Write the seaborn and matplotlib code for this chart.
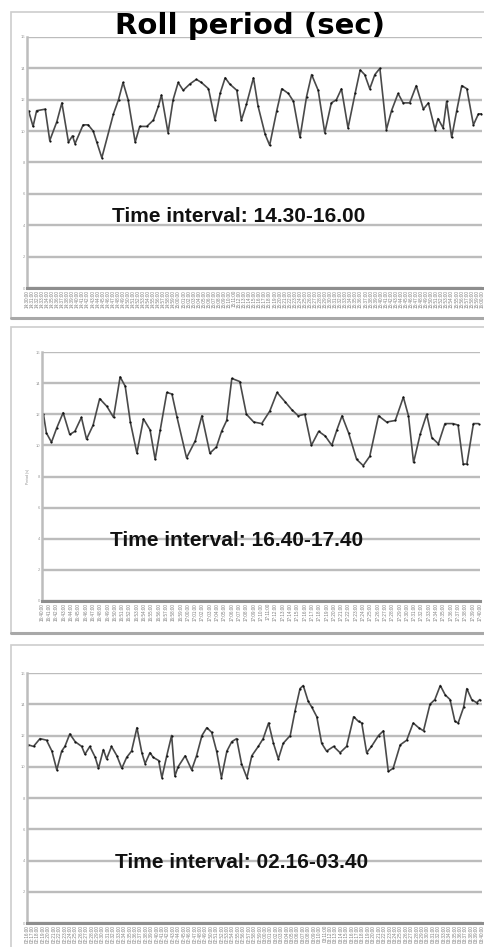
import numpy as np
import pandas as pd
import matplotlib
matplotlib.use("Agg")
import matplotlib.pyplot as plt
import seaborn as sns
from matplotlib.patches import Rectangle
from matplotlib.lines import Line2D
from datetime import datetime, timedelta

# --- roll period records (elapsed minutes, period in seconds) ---
t1 = [0.3, 1.2, 1.9, 3.6, 4.5, 5.9, 6.9, 8.2, 9.0, 9.5, 11.1, 12.1, 13.1, 13.8, 14.8,
      17.1, 18.1, 19.0, 20.0, 21.4, 22.3, 23.7, 25.0, 26.0, 26.6, 27.9, 28.9, 29.9,
      30.9, 32.2, 33.5, 34.5, 35.9, 37.2, 38.2, 39.2, 40.1, 41.5, 42.4, 43.4, 44.8,
      45.7, 47.1, 48.0, 49.4, 50.4, 51.7, 52.7, 54.0, 55.3, 56.3, 57.6, 58.9, 60.2,
      61.2, 62.2, 63.5, 64.9, 65.9, 66.8, 67.8, 68.8, 69.8, 71.1, 72.1, 73.4, 74.4,
      75.7, 77.0, 78.4, 79.4, 80.7, 81.3, 82.3, 83.0, 84.0, 85.0, 86.0, 87.0, 88.3,
      89.3, 89.9]
v1 = [11.3, 10.3, 11.3, 11.4, 9.4, 10.6, 11.8, 9.3, 9.7, 9.2, 10.4, 10.4, 10.0, 9.3, 8.3,
      11.1, 12.0, 13.1, 12.0, 9.3, 10.3, 10.3, 10.7, 11.6, 12.3, 9.9, 12.0, 13.1,
      12.6, 13.0, 13.3, 13.1, 12.7, 10.7, 12.4, 13.4, 13.0, 12.6, 10.7, 11.7, 13.4,
      11.6, 9.8, 9.1, 11.3, 12.7, 12.4, 11.9, 9.6, 12.2, 13.6, 12.6, 9.9, 11.8,
      12.0, 12.7, 10.2, 12.4, 13.9, 13.6, 12.7, 13.6, 14.0, 10.1, 11.3, 12.4, 11.8,
      11.8, 12.9, 11.4, 11.8, 10.1, 10.8, 10.2, 11.9, 9.6, 11.3, 12.9, 12.7, 10.4,
      11.1, 11.1]

t2 = [0.2, 0.6, 1.3, 2.0, 2.9, 3.8, 4.5, 5.4, 6.1, 7.0, 7.9, 8.9, 9.8, 10.7, 11.4,
      12.1, 13.0, 13.9, 14.8, 15.5, 16.2, 17.1, 17.8, 18.5, 19.8, 21.0, 21.9, 23.0,
      23.9, 24.6, 25.3, 26.0, 27.1, 28.0, 29.0, 30.1, 31.2, 32.2, 33.3, 34.2, 35.1,
      36.0, 36.9, 37.9, 38.8, 39.7, 40.4, 41.1, 42.0, 43.1, 44.0, 44.9, 46.1, 47.2,
      48.4, 49.5, 50.2, 50.9, 51.8, 52.7, 53.4, 54.3, 55.2, 56.3, 57.0, 57.7, 58.2,
      59.1, 59.8]
v2 = [12.0, 10.8, 10.2, 11.1, 12.1, 10.7, 10.9, 11.8, 10.4, 11.3, 13.0, 12.5, 11.8,
      14.4, 13.8, 11.5, 9.5, 11.7, 11.0, 9.1, 11.0, 13.4, 13.3, 11.8, 9.2, 10.3,
      11.9, 9.5, 9.9, 10.9, 11.6, 14.3, 14.1, 12.0, 11.5, 11.4, 12.2, 13.4, 12.8,
      12.3, 11.9, 12.0, 10.0, 10.9, 10.6, 10.0, 11.0, 11.9, 10.8, 9.1, 8.7, 9.3,
      11.9, 11.5, 11.6, 13.1, 11.9, 8.9, 10.7, 12.0, 10.5, 10.1, 11.4, 11.4, 11.3,
      8.8, 8.8, 11.4, 11.4]

t3 = [0.25, 1.2, 2.4, 3.6, 4.6, 5.5, 6.4, 7.0, 7.9, 8.9, 10.1, 10.7, 11.6, 12.6,
      13.2, 14.1, 14.7, 15.6, 16.6, 17.5, 18.4, 19.3, 20.3, 21.2, 21.8, 22.7, 23.3,
      24.3, 24.9, 25.8, 26.7, 27.3, 27.9, 29.2, 30.4, 31.3, 32.3, 33.2, 34.1, 35.0,
      35.9, 36.9, 37.8, 38.7, 39.6, 40.6, 41.5, 42.7, 43.6, 44.6, 45.5, 46.4, 47.3,
      48.6, 49.5, 50.4, 51.0, 51.9, 52.6, 53.5, 54.4, 55.3, 56.6, 57.8, 59.0, 60.3,
      61.2, 61.8, 62.7, 63.6, 64.9, 65.8, 66.7, 67.6, 68.9, 70.1, 71.3, 72.3, 73.2,
      74.4, 75.3, 76.3, 77.2, 78.1, 79.0, 79.6, 80.6, 81.2, 82.1, 83.0, 83.6]
v3 = [11.4, 11.3, 11.8, 11.7, 11.0, 9.8, 11.0, 11.3, 12.1, 11.6, 11.3, 10.8, 11.3,
      10.6, 9.9, 11.1, 10.5, 11.3, 10.7, 9.9, 10.6, 11.0, 12.5, 10.9, 10.2, 10.9,
      10.6, 10.4, 9.3, 10.7, 12.0, 9.4, 10.0, 10.7, 9.8, 10.7, 12.0, 12.5, 12.2,
      11.0, 9.3, 11.0, 11.6, 11.8, 10.2, 9.3, 10.7, 11.3, 11.8, 12.8, 11.5, 10.5,
      11.5, 12.0, 13.6, 15.0, 15.2, 14.2, 13.8, 13.2, 11.5, 11.0, 11.3, 10.9, 11.3,
      13.2, 12.9, 12.8, 10.9, 11.3, 12.0, 12.3, 9.7, 9.9, 11.4, 11.7, 12.8, 12.5,
      12.3, 14.0, 14.3, 15.2, 14.6, 14.3, 12.9, 12.8, 13.8, 15.0, 14.3, 14.1, 14.3]

starts = ["14:30", "16:40", "02:16"]
spans = [90, 60, 84]
intervals = ["Time interval: 14.30-16.00",
             "Time interval: 16.40-17.40",
             "Time interval: 02.16-03.40"]
yticks = list(range(0, 17, 2))
title = "Roll period (sec)"

sns.set_style("white")
plt.rcParams['font.family'] = ['Liberation Sans', 'DejaVu Sans']

W, H = 485, 947
fig = plt.figure(figsize=(W / 100, H / 100), dpi=100)


def fig_rect(l, t, r, b):
    return [l / W, 1 - b / H, (r - l) / W, (b - t) / H]


# layout in pixels: axes (left, top, right, bottom), frame (left, top, right, bottom),
# interval-text anchor in axes fraction
layout = [
    dict(ax=(27, 37, 482, 288), frame=(11, 12, 500, 318), txt=(0.187, 0.283)),
    dict(ax=(42, 352, 480, 601), frame=(11, 327, 500, 633), txt=(0.155, 0.241)),
    dict(ax=(27, 673, 482, 923), frame=(11, 645, 500, 960), txt=(0.193, 0.244)),
]

series = [(t1, v1), (t2, v2), (t3, v3)]

for i, ((t, v), lay) in enumerate(zip(series, layout)):
    # panel frame with a slightly darker lower edge
    fl, ft, fr, fb = lay["frame"]
    fig.add_artist(Rectangle((fl / W, 1 - fb / H), (fr - fl) / W, (fb - ft) / H,
                             transform=fig.transFigure, fill=False,
                             ec="#cdcdcd", lw=1.2, zorder=0))
    fig.add_artist(Line2D([fl / W, fr / W], [1 - fb / H, 1 - fb / H],
                          transform=fig.transFigure, color="#a8a8a8", lw=2.2))

    ax = fig.add_axes(fig_rect(*lay["ax"]))
    df = pd.DataFrame({"minute": t, "period": v})
    sns.lineplot(data=df, x="minute", y="period", ax=ax, color="#4a4a4a",
                 lw=1.2, estimator=None, sort=False,
                 marker="o", markersize=1.6, markeredgewidth=0,
                 markerfacecolor="#111111")
    ax.set_xlim(0, spans[i])
    ax.set_ylim(0, 16)

    ax.set_yticks(yticks)
    ax.set_yticklabels([str(y) for y in yticks], fontsize=3, color="#9a9a9a")
    ax.yaxis.grid(True, color="#bcbcbc", lw=1.7)
    ax.xaxis.grid(False)
    ax.set_axisbelow(True)

    start = datetime.strptime(starts[i], "%H:%M")
    xt = np.arange(0, spans[i] + 1, 1)
    ax.set_xticks(xt)
    ax.set_xticklabels([(start + timedelta(minutes=int(m))).strftime("%H:%M:%S") for m in xt],
                       rotation=90, fontsize=3.3, color="#7c7c7c")
    ax.tick_params(axis="both", length=0, pad=1.5)

    for s in ("top", "right"):
        ax.spines[s].set_visible(False)
    ax.spines["left"].set_color("#bdbdbd")
    ax.spines["left"].set_linewidth(1.8)
    ax.spines["bottom"].set_color("#8e8e8e")
    ax.spines["bottom"].set_linewidth(2.2)

    ax.set_xlabel("")
    ax.set_ylabel("")
    if i == 1:
        ax.set_ylabel("Period (s)", fontsize=2.5, color="#8c8c8c", labelpad=4)

    ax.text(lay["txt"][0], lay["txt"][1], intervals[i], transform=ax.transAxes,
            fontsize=15, fontweight="bold", ha="left", va="center", color="#111111",
            zorder=5)

fig.text(250 / W, 1 - 34 / H, title, ha="center", va="baseline",
         fontsize=21, fontweight="bold", family=["DejaVu Sans"], color="#000000")

fig.savefig("out.png", dpi=100)
